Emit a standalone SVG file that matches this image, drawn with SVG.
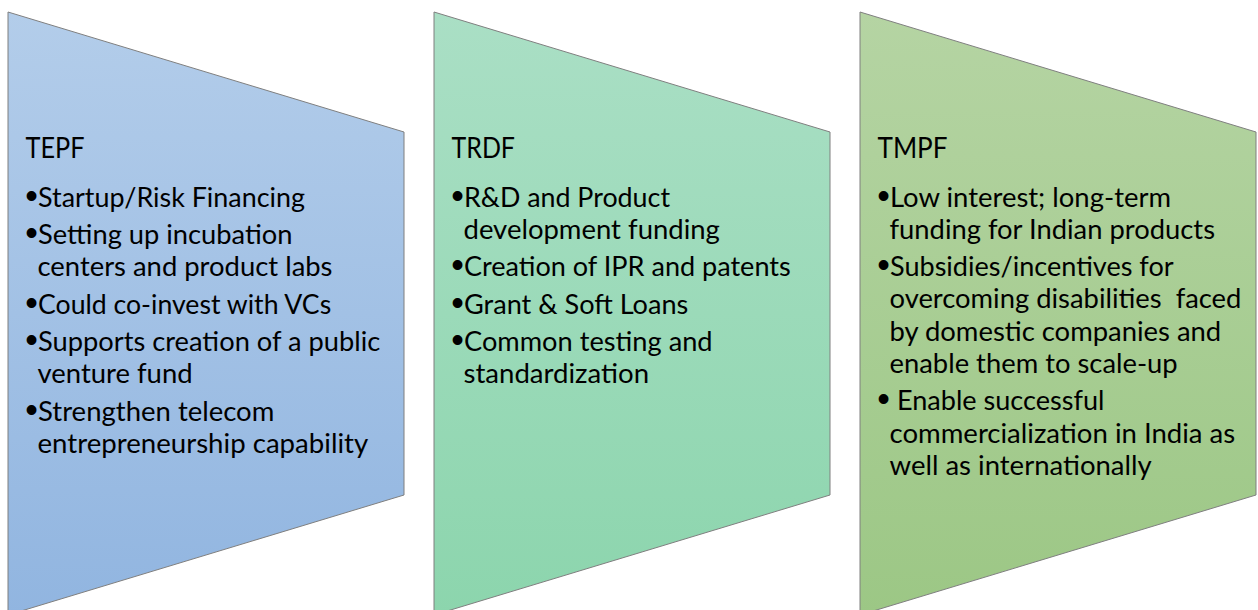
<svg xmlns="http://www.w3.org/2000/svg" width="1258" height="610" viewBox="0 0 1258 610">
  <defs>
    <linearGradient id="gradBlue" x1="0" y1="0" x2="0" y2="1">
      <stop offset="0" stop-color="#B3CDEA"/>
      <stop offset="1" stop-color="#91B5E0"/>
    </linearGradient>
    <linearGradient id="gradTeal" x1="0" y1="0" x2="0" y2="1">
      <stop offset="0" stop-color="#AADFC5"/>
      <stop offset="1" stop-color="#8CD5AD"/>
    </linearGradient>
    <linearGradient id="gradGreen" x1="0" y1="0" x2="0" y2="1">
      <stop offset="0" stop-color="#B5D4A3"/>
      <stop offset="1" stop-color="#9CC785"/>
    </linearGradient>
    <style>
      .panel { stroke: #7F7F7F; stroke-width: 1; }
      .title, .line { font-family: Lato, "Liberation Sans", sans-serif; font-size: 27px; fill: #000; }
      .title { font-size: 28.5px; }
      .bullet { font-family: "Liberation Sans", sans-serif; font-size: 36px; fill: #000; text-anchor: middle; }
    </style>
  </defs>

  <!-- TEPF panel -->
  <g id="tepf">
    <polygon class="panel" fill="url(#gradBlue)" points="8,12 404,132 404,495 8,615"/>
    <text class="title" x="25.5" y="158" textLength="59" lengthAdjust="spacingAndGlyphs">TEPF</text>
    <text class="bullet" x="31.5" y="207.5">•</text>
    <text class="line" x="38" y="206.5" textLength="267" lengthAdjust="spacingAndGlyphs">Startup/Risk Financing</text>
    <text class="bullet" x="31.5" y="245">•</text>
    <text class="line" x="38" y="244" textLength="254.5" lengthAdjust="spacingAndGlyphs">Setting up incubation</text>
    <text class="line" x="37.5" y="276.2" textLength="295" lengthAdjust="spacingAndGlyphs">centers and product labs</text>
    <text class="bullet" x="31.5" y="314.7">•</text>
    <text class="line" x="38" y="313.7" textLength="293.2" lengthAdjust="spacingAndGlyphs">Could co-invest with VCs</text>
    <text class="bullet" x="31.5" y="352.2">•</text>
    <text class="line" x="38" y="351.2" textLength="342.3" lengthAdjust="spacingAndGlyphs">Supports creation of a public</text>
    <text class="line" x="37.5" y="383.4" textLength="155.1" lengthAdjust="spacingAndGlyphs">venture fund</text>
    <text class="bullet" x="31.5" y="421.9">•</text>
    <text class="line" x="38" y="420.9" textLength="236.3" lengthAdjust="spacingAndGlyphs">Strengthen telecom</text>
    <text class="line" x="37.5" y="453.1" textLength="330.7" lengthAdjust="spacingAndGlyphs">entrepreneurship capability</text>
  </g>

  <!-- TRDF panel -->
  <g id="trdf">
    <polygon class="panel" fill="url(#gradTeal)" points="434,12 830,132 830,495 434,615"/>
    <text class="title" x="451.5" y="158" textLength="63.5" lengthAdjust="spacingAndGlyphs">TRDF</text>
    <text class="bullet" x="457.5" y="207.5">•</text>
    <text class="line" x="464" y="206.5" textLength="206" lengthAdjust="spacingAndGlyphs">R&amp;D and Product</text>
    <text class="line" x="463.5" y="238.7" textLength="256.4" lengthAdjust="spacingAndGlyphs">development funding</text>
    <text class="bullet" x="457.5" y="277.2">•</text>
    <text class="line" x="464" y="276.2" textLength="326.7" lengthAdjust="spacingAndGlyphs">Creation of IPR and patents</text>
    <text class="bullet" x="457.5" y="314.7">•</text>
    <text class="line" x="464" y="313.7" textLength="224.3" lengthAdjust="spacingAndGlyphs">Grant &amp; Soft Loans</text>
    <text class="bullet" x="457.5" y="352.2">•</text>
    <text class="line" x="464" y="351.2" textLength="248.6" lengthAdjust="spacingAndGlyphs">Common testing and</text>
    <text class="line" x="463.5" y="383.4" textLength="185.6" lengthAdjust="spacingAndGlyphs">standardization</text>
  </g>

  <!-- TMPF panel -->
  <g id="tmpf">
    <polygon class="panel" fill="url(#gradGreen)" points="860,12 1256,132 1256,495 860,615"/>
    <text class="title" x="877.5" y="158" textLength="70" lengthAdjust="spacingAndGlyphs">TMPF</text>
    <text class="bullet" x="883.5" y="207.5">•</text>
    <text class="line" x="890" y="206.5" textLength="281" lengthAdjust="spacingAndGlyphs">Low interest; long-term</text>
    <text class="line" x="889.5" y="238.7" textLength="325.5" lengthAdjust="spacingAndGlyphs">funding for Indian products</text>
    <text class="bullet" x="883.5" y="277.2">•</text>
    <text class="line" x="890" y="276.2" textLength="283.6" lengthAdjust="spacingAndGlyphs">Subsidies/incentives for</text>
    <text class="line" x="889.5" y="308.4" textLength="351.9" lengthAdjust="spacingAndGlyphs" xml:space="preserve">overcoming disabilities  faced</text>
    <text class="line" x="889.5" y="340.6" textLength="331.7" lengthAdjust="spacingAndGlyphs">by domestic companies and</text>
    <text class="line" x="889.5" y="372.8" textLength="288.2" lengthAdjust="spacingAndGlyphs">enable them to scale-up</text>
    <text class="bullet" x="883.5" y="411.3">•</text>
    <text class="line" x="897" y="410.3" textLength="207.4" lengthAdjust="spacingAndGlyphs">Enable successful</text>
    <text class="line" x="889.5" y="442.5" textLength="345.7" lengthAdjust="spacingAndGlyphs">commercialization in India as</text>
    <text class="line" x="889.5" y="474.7" textLength="262.2" lengthAdjust="spacingAndGlyphs">well as internationally</text>
  </g>
</svg>
